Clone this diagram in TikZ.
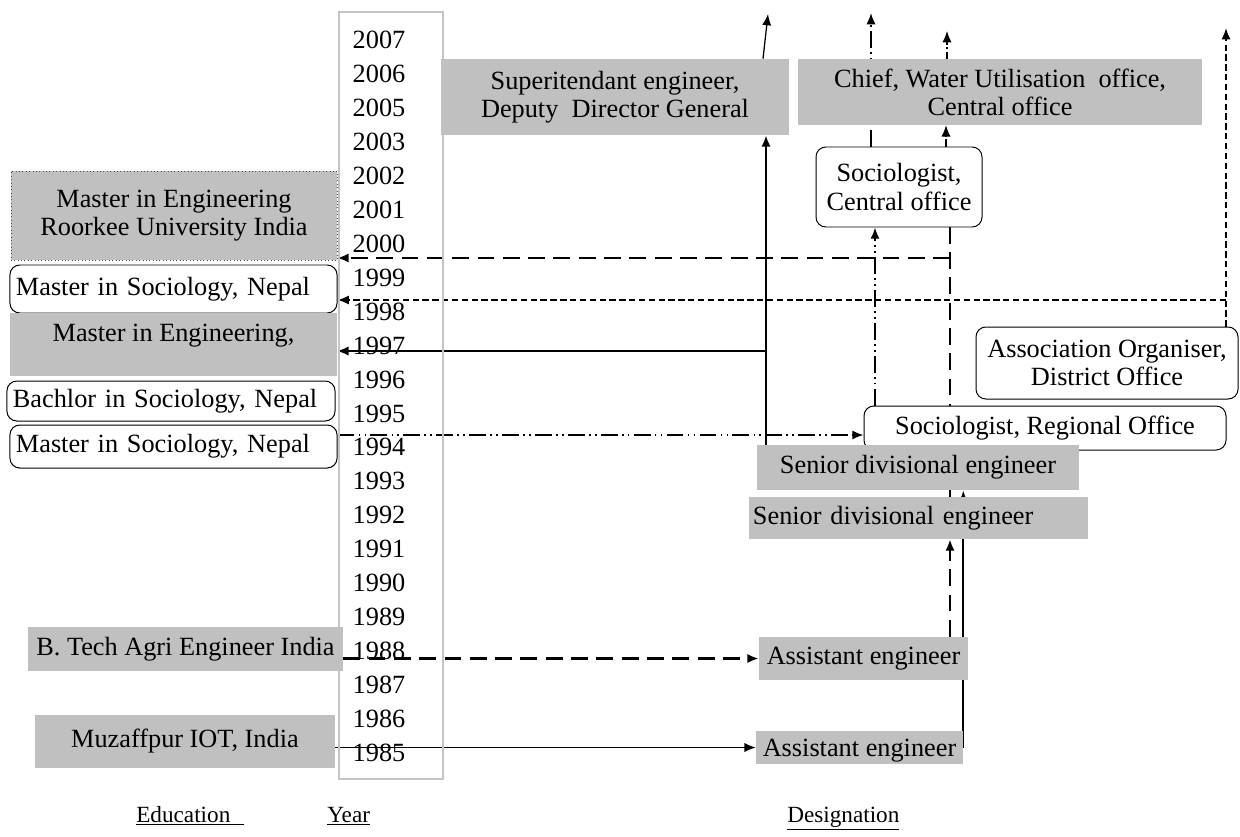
\documentclass[tikz,border=0pt]{standalone}
\usepackage{fontspec}
\setmainfont{Liberation Serif}
\usetikzlibrary{arrows.meta,backgrounds}
\definecolor{boxgray}{RGB}{192,192,192}
\definecolor{colgray}{RGB}{196,196,196}
\newcommand{\unitpx}{0.025cm}

\begin{document}
\begin{tikzpicture}[>={Latex[length=8pt,width=6.5pt]},x=\unitpx,y=-\unitpx,font=\fontsize{18.7}{20}\selectfont,
  boxsize/.style 2 args={minimum width=#1*\unitpx,minimum height=#2*\unitpx},
  graybox/.style={fill=boxgray,inner sep=0pt,align=center},
  roundbox/.style={draw,line width=0.7pt,fill=white,rounded corners=7pt,inner sep=0pt,align=center},
  leftbox/.style={align=left,inner xsep=0.15cm},
  headlbl/.style={anchor=base west,inner sep=0pt,font=\fontsize{16.5}{18}\selectfont},
  thinline/.style={line width=0.9pt},
  thickline/.style={line width=1.5pt},
  longdash/.style={line width=1.6pt,dash pattern=on 12pt off 6pt},
  shortdash/.style={line width=1.4pt,dash pattern=on 4.5pt off 2.5pt},
  dashdotdot/.style={line width=1.2pt,dash pattern=on 12pt off 3pt on 1.2pt off 3pt on 1.2pt off 3pt},
  dashdotthin/.style={line width=0.8pt,dash pattern=on 5pt off 2pt on 1pt off 2pt}]
\useasboundingbox (0,0) rectangle (1240,836);
\node[draw=colgray,line width=0.8pt,inner sep=0pt,boxsize={104}{767}] (yearcol) at (391,395.5) {};
\foreach \yr [count=\i from 0] in {2007,2006,2005,2003,2002,2001,2000,1999,1998,1997,1996,1995,1994,1993,1992,1991,1990,1989,1988,1987,1986,1985}
  \node[inner sep=0pt] (y\yr) at (379,40+33.95*\i) {\yr};
\node[graybox,boxsize={326}{89},draw=black!70,dotted] (roorkee) at (174,215.5) {Master in Engineering\\Roorkee University India};
\node[roundbox,leftbox,text width=7.875cm,boxsize={327}{48}] (msocA) at (173.5,289) {Master in Sociology, Nepal};
\node[graybox,boxsize={327}{63},text depth=16pt] (mengB) at (173.5,344.5) {Master in Engineering,};
\node[roundbox,leftbox,text width=7.9cm,boxsize={328}{40}] (bsoc) at (171,401) {Bachlor in Sociology, Nepal};
\node[roundbox,leftbox,text width=7.875cm,boxsize={327}{43}] (msocB) at (173.5,446.5) {Master in Sociology, Nepal};
\node[graybox,boxsize={315}{44}] (btech) at (185.5,649) {B. Tech\ Agri Engineer India};
\node[graybox,boxsize={300}{53}] (muz) at (185,741.5) {Muzaffpur IOT, India};
\node[graybox,boxsize={348}{76}] (supt) at (615,97) {Superitendant engineer,\\Deputy\ \ Director General};
\node[graybox,boxsize={404}{66}] (chief) at (1000,92) {Chief, Water Utilisation\ \ office,\\Central office};
\node[roundbox,boxsize={166}{80}] (soccen) at (899,187) {Sociologist,\\Central office};
\node[roundbox,boxsize={262}{72}] (assoc) at (1107,363) {Association Organiser,\\District Office};
\node[roundbox,boxsize={362}{44}] (socreg) at (1045,428) {Sociologist, Regional Office};
\node[graybox,boxsize={322}{45}] (sdeA) at (918,467.5) {Senior divisional engineer};
\node[graybox,leftbox,inner xsep=0.1cm,text width=8.275cm,boxsize={339}{42}] (sdeB) at (918.5,518) {Senior divisional engineer};
\node[graybox,boxsize={209}{43}] (aeA) at (863.5,658.5) {Assistant engineer};
\node[graybox,boxsize={207}{33},text depth=0pt] (aeB) at (859.5,747.5) {Assistant engineer};
\node[headlbl] (edu) at (136,822) {\underline{Education\hspace{0.6em}}};
\node[headlbl] (yearlab) at (327,822) {\underline{Year}};
\node[headlbl] (desig) at (787,822) {\underline{Designation}};
\coordinate (top1) at (768,14);
\coordinate (top2) at (871,13);
\coordinate (top3) at (947,31);
\coordinate (top4) at (1226,28);
\coordinate (j1997) at (766,351);
\coordinate (j2000) at (950,258);
\coordinate (j1998) at (1226,300);
\begin{scope}[on background layer]
\draw[thinline,->] (muz.east |- aeB.west) -- (aeB.west);
\draw[thickline,->] (aeB.east) -- (aeB.east |- sdeA.south);
\draw[thickline,->] (sdeA.north -| j1997) -- (supt.south -| j1997);
\draw[thinline,->] (j1997) -- (mengB.east |- j1997);
\draw[thinline,->] (supt.north -| 763,0) -- (top1);
\draw[longdash,->] (btech.east |- aeA.west) -- (aeA.west);
\draw[longdash,->] (aeA.north -| j2000) -- (sdeB.south -| j2000);
\draw[longdash] (sdeB.north -| j2000) -- (soccen.south -| j2000);
\draw[longdash,->] (j2000) -- (roorkee.east |- j2000);
\draw[dashdotthin,->] (soccen.north -| 946,0) -- (chief.south -| 946,0);
\draw[dashdotthin,->] (chief.north -| top3) -- (top3);
\draw[dashdotdot,->] (msocB.east |- 0,435) -- (socreg.west |- 0,435);
\draw[dashdotdot,->] (socreg.north -| 875,0) -- (soccen.south -| 875,0);
\draw[dashdotdot,->] (soccen.north -| top2) -- (top2);
\draw[shortdash,->] (assoc.north -| top4) -- (top4);
\draw[shortdash,->] (j1998) -- (msocA.east |- j1998);
\end{scope}
\end{tikzpicture}
\end{document}
